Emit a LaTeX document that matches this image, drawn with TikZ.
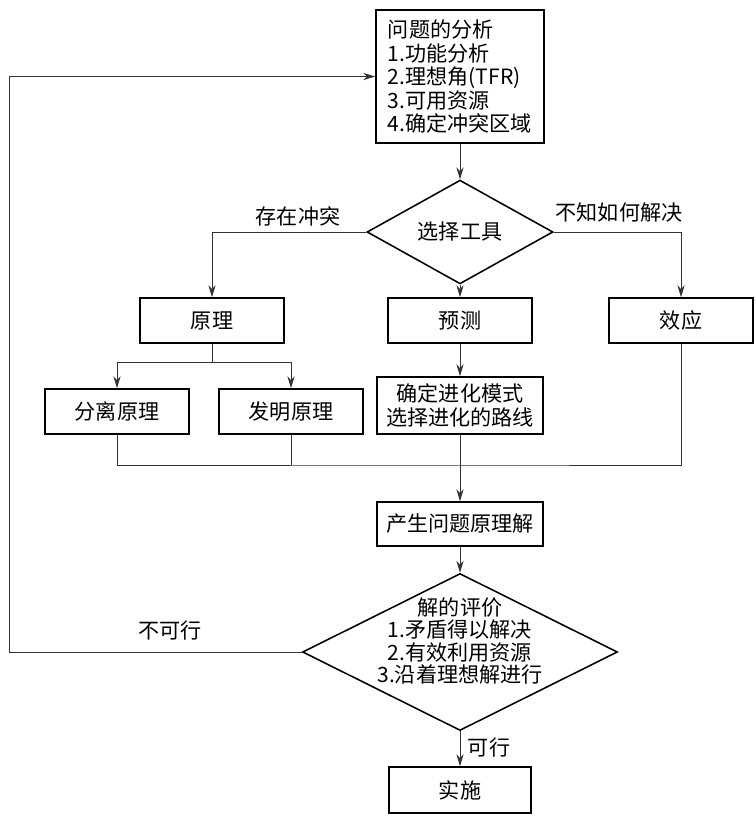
\documentclass[tikz,border=0pt]{standalone}
\usepackage{fontspec}
\newfontfamily\cjk{Noto Sans CJK SC}
\usetikzlibrary{arrows.meta,shapes.geometric}

\begin{document}
\begin{tikzpicture}[
        x=0.025cm, y=-0.025cm,
        box/.style={rectangle, draw=black, line width=1.1pt, minimum width=36mm, minimum height=11.25mm, inner sep=2pt, align=center, font=\cjk\fontsize{15}{16.7}\selectfont},
        decision/.style={diamond, draw=black, line width=1.1pt, inner sep=0pt, align=center, font=\cjk\fontsize{15}{16.7}\selectfont},
        tag/.style={font=\cjk\fontsize{15}{16}\selectfont},
        arrow/.style={-{Stealth[length=3mm,width=1.8mm]}, line width=0.6pt, draw=black!80},
        link/.style={line width=0.6pt, draw=black!80}
    ]
        \useasboundingbox (0,0) rectangle (756,816);

        \node[box, align=left, minimum width=42mm, minimum height=33.25mm] (wenti) at (460,76.5) {问题的分析\\1.功能分析\\2.理想角(TFR)\\3.可用资源\\4.确定冲突区域};
        \node[decision, minimum width=46.5mm, minimum height=17.5mm] (xuanze) at (460,232) {选择工具};

        \node[box] (yuanli) at (212,320.5) {原理};
        \node[box] (yuce) at (460,320.5) {预测};
        \node[box] (xiaoying) at (681,320.5) {效应};

        \node[box] (fenli) at (117,411.5) {分离原理};
        \node[box] (faming) at (291,411.5) {发明原理};
        \node[box, minimum width=41.5mm, minimum height=14.25mm] (jinhua) at (460,405.5) {确定进化模式\\选择进化的路线};

        \node[box, minimum width=41.5mm, minimum height=11mm] (chansheng) at (460,524) {产生问题原理解};
        \node[decision, minimum width=78.75mm, minimum height=39.25mm,
            label={[tag, align=center, yshift=2.75mm]center:{解的评价\\1.矛盾得以解决\\2.有效利用资源\\3.沿着理想解进行}}] (pingjia) at (460,652) {};
        \node[box, minimum width=35.5mm, minimum height=11.5mm] (shishi) at (460,790) {实施};

        \coordinate (fenzhi) at (212,362);
        \coordinate (huizong) at (460,465);
        \coordinate (fanhui) at (9,652);

        \draw[arrow] (wenti) -- (xuanze);
        \draw[arrow] (xuanze.west) -| (yuanli.north);
        \draw[arrow] (xuanze.east) -| (xiaoying.north);
        \draw[arrow] (xuanze) -- (yuce);
        \draw[link] (yuanli.south) -- (fenzhi);
        \draw[arrow] (fenzhi) -| (fenli.north);
        \draw[arrow] (fenzhi) -| (faming.north);
        \draw[arrow] (yuce) -- (jinhua);
        \draw[link] (fenli.south) |- (huizong) -| (xiaoying.south);
        \draw[link] (faming.south) -- (faming.south |- huizong);
        \draw[arrow] (jinhua) -- (chansheng);
        \draw[arrow] (chansheng) -- (pingjia);
        \draw[arrow] (pingjia.west) -- (fanhui) |- (wenti.west);
        \draw[arrow] (pingjia) -- (shishi);

        \node[tag] (chongtu) at (298,216) {存在冲突};
        \node[tag] (buzhi) at (619,213) {不知如何解决};
        \node[tag] (buxing) at (170,630) {不可行};
        \node[tag] (kexing) at (489,747) {可行};
    \end{tikzpicture}
\end{document}
